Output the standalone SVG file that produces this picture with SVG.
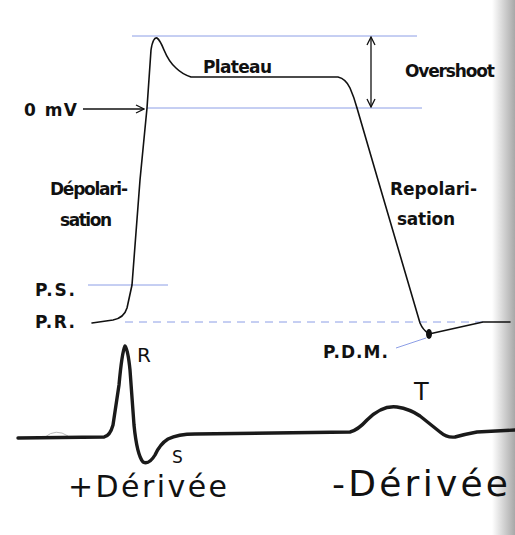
<svg xmlns="http://www.w3.org/2000/svg" width="515" height="535" viewBox="0 0 515 535">
<defs>
<style>
.lbl{font-family:"DejaVu Sans","Liberation Sans",sans-serif;font-weight:bold;font-size:17px;fill:#111}
.hand{font-family:"DejaVu Sans","Liberation Sans",sans-serif;font-weight:normal;fill:#111}
.blue{stroke:#8c9ee6;stroke-width:1;fill:none}
.trace{stroke:#111;stroke-width:1.6;fill:none;stroke-linejoin:round;stroke-linecap:round}
.ecg{stroke:#1a1a1a;stroke-width:3.4;fill:none;stroke-linejoin:round;stroke-linecap:round}
.arr{stroke:#111;stroke-width:1.3;fill:none}
</style>
<marker id="open" viewBox="0 0 10 10" refX="9" refY="5" markerWidth="10" markerHeight="10" markerUnits="userSpaceOnUse" orient="auto-start-reverse">
<path d="M1 1 L9 5 L1 9" fill="none" stroke="#111" stroke-width="1.3"/>
</marker>
<linearGradient id="edge" x1="0" y1="0" x2="1" y2="0">
<stop offset="0" stop-color="#ffffff"/>
<stop offset="1" stop-color="#a8a8a8"/>
</linearGradient>
</defs>
<rect width="515" height="535" fill="#ffffff"/>
<rect x="492" y="0" width="23" height="535" fill="url(#edge)"/>

<g id="reference-lines">
<line class="blue" x1="132" y1="36" x2="417" y2="36"/>
<line class="blue" x1="147" y1="108" x2="422" y2="108"/>
<line class="blue" x1="88" y1="285" x2="168" y2="285"/>
<line class="blue" x1="125" y1="322" x2="483" y2="322" stroke-dasharray="8 6"/>
<line class="blue" x1="396" y1="348" x2="426" y2="338"/>
</g>

<g id="action-potential">
<path class="trace" d="M92 323 L113 320 Q124 318 127 308 L132 285 L140 180 L147 108 L151 50 Q153 37 157 38 Q160 40 164 50 Q169 62 176 68 Q182 74 191 77 L338 77 Q346 79 350 88 Q354 97 357 108 L378 180 L420 323 Q423 330 428 333"/>
<ellipse cx="429" cy="334" rx="3" ry="5" fill="#111"/>
<path class="trace" d="M429 334 L483 322 L510 322"/>
</g>

<g id="connectors">
<line class="arr" x1="83" y1="109" x2="144" y2="109" marker-end="url(#open)"/>
<line class="arr" x1="371" y1="37" x2="371" y2="107" marker-start="url(#open)" marker-end="url(#open)"/>
</g>

<g id="label-0mV"><text class="lbl" x="24" y="116" textLength="53">0 mV</text></g>
<g id="label-plateau"><text class="lbl" x="203" y="73" textLength="69">Plateau</text></g>
<g id="label-overshoot"><text class="lbl" x="405" y="77" textLength="90">Overshoot</text></g>
<g id="label-depolarisation">
<text class="lbl" x="50" y="195" textLength="78">Dépolari-</text>
<text class="lbl" x="60" y="226" textLength="52">sation</text>
</g>
<g id="label-repolarisation">
<text class="lbl" x="390" y="195" textLength="87">Repolari-</text>
<text class="lbl" x="397" y="225" textLength="58">sation</text>
</g>
<g id="label-ps"><text class="lbl" x="35" y="296" textLength="40">P.S.</text></g>
<g id="label-pr"><text class="lbl" x="35" y="328" textLength="40">P.R.</text></g>
<g id="label-pdm"><text class="lbl" x="323" y="358" textLength="65">P.D.M.</text></g>

<g id="ecg">
<path d="M45 437 Q56 428 68 436" stroke="#bbb" stroke-width="1" fill="none"/>
<path class="ecg" d="M18 438 L104 437 Q110 436 113 425 L119 385 Q122 352 125 346 Q128 350 130 370 L134 425 Q137 455 143 462 Q149 465 155 455 Q160 444 168 439 Q178 434 195 434 L350 432 Q358 430 367 420 Q382 405 397 407 Q410 409 420 416 Q430 424 440 432 Q447 438 455 437 Q466 434 477 432 L515 430"/>
<text class="hand" x="137" y="362" font-size="20">R</text>
<text class="hand" x="172" y="463" font-size="17">S</text>
<text class="hand" x="414" y="400" font-size="24">T</text>
<text class="hand" x="68" y="497" font-size="30" textLength="159">+Dérivée</text>
<text class="hand" x="332" y="496" font-size="36" textLength="176">-Dérivée</text>
</g>
</svg>
